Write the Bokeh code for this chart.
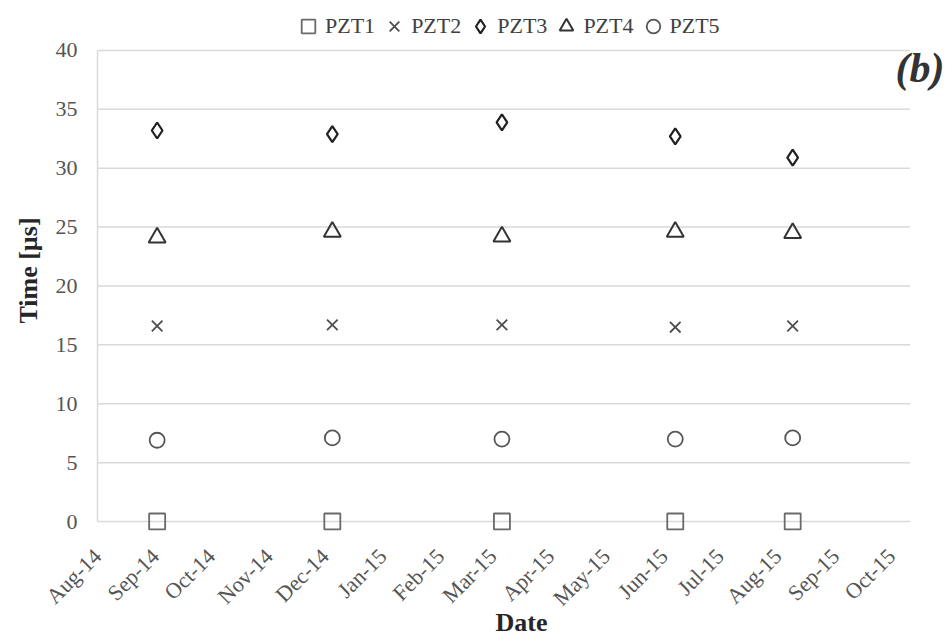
import math
from datetime import datetime
from bokeh.plotting import figure
from bokeh.models import (ColumnDataSource, Legend, LegendItem, DatetimeTickFormatter,
                          FixedTicker, Label, Range1d)
from bokeh.embed import file_html
from bokeh.resources import INLINE

# ---- data ----
dates = ["2014-09-02", "2014-12-05", "2015-03-06", "2015-06-07", "2015-08-09"]
pzt1 = [0.0, 0.0, 0.0, 0.0, 0.0]
pzt2 = [16.6, 16.7, 16.7, 16.5, 16.6]
pzt3 = [33.2, 32.9, 33.9, 32.7, 30.9]
pzt4 = [24.1, 24.6, 24.2, 24.6, 24.5]
pzt5 = [6.9, 7.1, 7.0, 7.0, 7.1]
series_names = ["PZT1", "PZT2", "PZT3", "PZT4", "PZT5"]
tick_months = ["2014-08-01", "2014-09-01", "2014-10-01", "2014-11-01", "2014-12-01",
               "2015-01-01", "2015-02-01", "2015-03-01", "2015-04-01", "2015-05-01",
               "2015-06-01", "2015-07-01", "2015-08-01", "2015-09-01", "2015-10-01"]
x_start, x_end = "2014-08-01", "2015-10-11"   # plot-area extent (axis min / max)
x_view_end = "2015-10-30"                       # room on the right for the panel tag
y_ticks = [0, 5, 10, 15, 20, 25, 30, 35, 40]
y_min, y_max = 0, 40


def to_dt(s):
    return datetime.strptime(s, "%Y-%m-%d")


def to_ms(s):
    return (to_dt(s) - datetime(1970, 1, 1)).total_seconds() * 1000.0


FONT = "Liberation Serif"
GRID = "#d9d9d9"
TOP = 10            # frame starts near the top so the legend row sits inside it
PLOT_H = 472        # height of the 0..40 plot area in px
PAD = 9             # room below the 0 line so markers on it are not cut
FRAME_H = 521       # expected frame height (640 - TOP - bottom axis)
unit = (y_max - y_min) / PLOT_H
y_view_bottom = y_min - PAD * unit
y_view_top = y_max + (FRAME_H - PLOT_H - PAD) * unit

p = figure(width=945, height=640, x_axis_type="datetime",
           x_range=Range1d(to_dt(x_start), to_dt(x_view_end)),
           y_range=Range1d(y_view_bottom, y_view_top),
           output_backend="svg", toolbar_location=None,
           min_border_left=97, min_border_right=0, min_border_top=TOP, min_border_bottom=0)
p.outline_line_color = None
p.background_fill_color = "white"
p.xgrid.grid_line_color = None
p.ygrid.grid_line_color = None

# horizontal gridlines (and the 0 baseline) limited to the plot area
n = len(y_ticks)
p.segment(x0=[to_dt(x_start)] * n, x1=[to_dt(x_end)] * n, y0=y_ticks, y1=y_ticks,
          line_color=GRID, line_width=1.5)

src = ColumnDataSource(dict(x=[to_dt(d) for d in dates], p1=pzt1, p2=pzt2, p3=pzt3, p4=pzt4, p5=pzt5))

r1 = p.scatter("x", "p1", source=src, marker="square", size=16, fill_color=None,
               line_color="#6a6a6a", line_width=1.8)
r2 = p.scatter("x", "p2", source=src, marker="x", size=15, line_color="#4d4d4d", line_width=1.8)
r3 = p.scatter("x", "p3", source=src, marker="diamond", size=16, fill_color=None,
               line_color="#202020", line_width=2.2)
r4 = p.scatter("x", "p4", source=src, marker="triangle", size=17, fill_color=None,
               line_color="#333333", line_width=2.0)
r5 = p.scatter("x", "p5", source=src, marker="circle", size=15, fill_color=None,
               line_color="#555555", line_width=1.8)

# axes
p.xaxis.ticker = FixedTicker(ticks=[to_ms(t) for t in tick_months])
fmt = "%b-%y"
p.xaxis.formatter = DatetimeTickFormatter(days=fmt, months=fmt, years=fmt, hours=fmt,
                                          hourmin=fmt, minutes=fmt, minsec=fmt, seconds=fmt)
p.xaxis.major_label_orientation = math.pi / 4
p.xaxis.bounds = (to_dt(x_start), to_dt(x_end))
p.yaxis.ticker = FixedTicker(ticks=y_ticks)
p.yaxis.bounds = (y_min, y_max)

for ax in (p.xaxis[0], p.yaxis[0]):
    ax.axis_line_color = GRID
    ax.axis_line_width = 1.5
    ax.major_tick_line_color = None
    ax.minor_tick_line_color = None
    ax.major_label_text_font = FONT
    ax.major_label_text_font_size = "22px"
    ax.major_label_text_color = "#555555"
    ax.axis_label_text_font = FONT
    ax.axis_label_text_font_size = "26px"
    ax.axis_label_text_font_style = "bold"
    ax.axis_label_text_color = "#262626"
p.xaxis.axis_line_color = None   # the 0 gridline acts as the horizontal axis line

p.xaxis.axis_label = "Date"
p.yaxis.axis_label = "Time [\u00b5s]"
p.xaxis.major_label_standoff = 25 - PAD
p.yaxis.major_label_standoff = 14
p.xaxis.axis_label_standoff = -14
p.yaxis.axis_label_standoff = 10

# legend row at the top (inside the frame, above the 40 gridline)
legend = Legend(items=[LegendItem(label=nm, renderers=[r]) for nm, r in
                       zip(series_names, [r1, r2, r3, r4, r5])],
                orientation="horizontal", location=(194, PLOT_H + PAD + 6),
                glyph_width=34, glyph_height=34, label_standoff=0, spacing=2,
                padding=0, margin=0, border_line_color=None, background_fill_alpha=0,
                label_text_font=FONT, label_text_font_size="22px", label_text_color="#404040")
p.add_layout(legend, "center")

lbl = Label(x=798, y=PLOT_H + PAD - 18, x_units="screen", y_units="screen", text="(b)",
            text_font=FONT, text_font_size="42px", text_font_style="bold italic",
            text_color="#333333", text_baseline="middle", text_align="left")
p.add_layout(lbl)

open("out.html", "w").write(file_html(p, INLINE))
